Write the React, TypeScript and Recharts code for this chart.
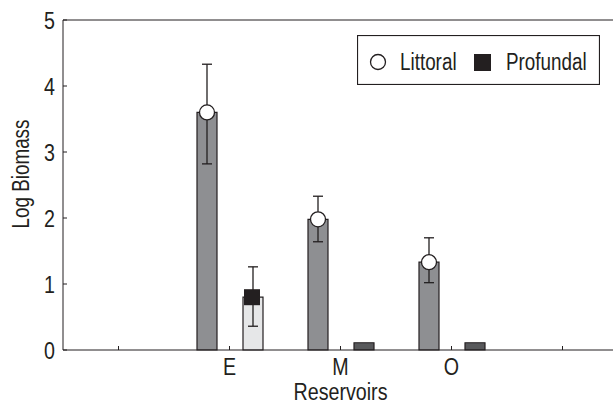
import React from 'react';
import { ComposedChart, Bar, XAxis, YAxis, ErrorBar, LabelList, Cell } from 'recharts';

// reservoir categories (blank slots at both ends, like the original axis)
const reservoirs = ['', 'E', 'M', 'O', ''];
const littoral = [null, 3.6, 1.98, 1.33, null];
const littoralLow = [null, 0.78, 0.34, 0.31, null];
const littoralHigh = [null, 0.73, 0.35, 0.37, null];
const profundal = [null, 0.8, 0.11, 0.11, null];
const profundalLow = [null, 0.44, null, null, null];
const profundalHigh = [null, 0.46, null, null, null];
const profundalMarked = [false, true, false, false, false];
const yTicks = [0, 1, 2, 3, 4, 5];

const ink = '#231f20';
const font = "'Liberation Sans', Arial, sans-serif";
const narrow = 0.82; // squeeze the text, the original uses a condensed face
const profundalFills = ['#e6e7e8', '#e6e7e8', '#58595b', '#58595b', '#58595b'];

const data = reservoirs.map((r, i) => ({
  key: `c${i}`,
  name: r,
  littoral: littoral[i],
  littoralErr: littoral[i] == null ? null : [littoralLow[i], littoralHigh[i]],
  profundal: profundal[i],
  profundalErr: profundalLow[i] == null ? null : [profundalLow[i], profundalHigh[i]],
  profundalMark: profundalMarked[i] ? profundal[i] : null,
}));

// condensed text helper
const NText = ({ x, y, size, anchor = 'start', rotate = 0, dy = 0, children }: any) => (
  <text
    transform={`translate(${x},${y}) rotate(${rotate}) scale(${narrow},1)`}
    textAnchor={anchor}
    dy={dy}
    fontSize={size}
    fill={ink}
    fontFamily={font}
  >
    {children}
  </text>
);

const YTick = (props: any) => {
  const { x, y, payload } = props;
  return <NText x={x} y={y} size={24} anchor="end" dy="0.355em">{payload.value}</NText>;
};

const XTick = (props: any) => {
  const { x, y, index } = props;
  const txt = reservoirs[index] ?? '';
  if (!txt) return null;
  return <NText x={x} y={y} size={24} anchor="middle" dy="0.71em">{txt}</NText>;
};

const CircleMark = (props: any) => {
  const { x, y, width, value } = props;
  if (value == null) return null;
  return <circle cx={x + width / 2} cy={y} r={7.5} fill="#fff" stroke={ink} strokeWidth={1.3} />;
};

const SquareMark = (props: any) => {
  const { x, y, width, value } = props;
  if (value == null) return null;
  return <rect x={x + width / 2 - 9} y={y - 8} width={16} height={16} fill={ink} />;
};

const Legendbox = () => (
  <svg width={243} height={50} style={{ position: 'absolute', left: 357, top: 35 }}>
    <rect x={0.5} y={0.5} width={242} height={49} fill="#fff" stroke={ink} strokeWidth={1.2} />
    <circle cx={21} cy={27} r={7.5} fill="#fff" stroke={ink} strokeWidth={1.3} />
    <NText x={43} y={34.5} size={23}>Littoral</NText>
    <rect x={117} y={19} width={17} height={17} fill={ink} />
    <NText x={149} y={34.5} size={23}>Profundal</NText>
  </svg>
);

export default function App() {
  return (
    <div style={{ position: 'fixed', left: 0, top: 0, width: 613, height: 403, overflow: 'hidden', background: '#fff' }}>
      <ComposedChart
        width={641}
        height={403}
        data={data}
        margin={{ top: 19, right: 22, bottom: 0, left: 0 }}
        barGap={26}
        style={{ fontFamily: font }}
      >
        <XAxis
          xAxisId="bottom"
          dataKey="key"
          height={53}
          stroke={ink}
          tickSize={-4}
          tickMargin={12}
          tick={<XTick />}
          label={{ content: () => <NText x={340.5} y={400} size={24} anchor="middle">Reservoirs</NText> }}
        />
        <XAxis xAxisId="top" dataKey="key" orientation="top" height={1} stroke={ink} tickSize={-4} tick={false} />
        <YAxis
          yAxisId="left"
          width={63}
          domain={[0, 5]}
          ticks={yTicks}
          stroke={ink}
          tickSize={-4}
          tickMargin={12}
          tick={<YTick />}
          label={{ content: () => <NText x={28.5} y={174} size={23} anchor="middle" rotate={-90}>Log Biomass</NText> }}
        />
        <YAxis yAxisId="right" orientation="right" width={1} domain={[0, 5]} ticks={yTicks} stroke={ink} tickSize={-3} tick={false} />
        <Bar xAxisId="bottom" yAxisId="left" dataKey="littoral" barSize={20} fill="#8e8f92" stroke={ink} strokeWidth={1.2} isAnimationActive={false}>
          <ErrorBar dataKey="littoralErr" width={5} stroke={ink} strokeWidth={1.3} direction="y" />
          <LabelList dataKey="littoral" content={CircleMark} />
        </Bar>
        <Bar xAxisId="bottom" yAxisId="left" dataKey="profundal" barSize={20} stroke={ink} strokeWidth={1.2} isAnimationActive={false}>
          {data.map((d, i) => (
            <Cell key={d.key} fill={profundalFills[i]} />
          ))}
          <ErrorBar dataKey="profundalErr" width={5} stroke={ink} strokeWidth={1.3} direction="y" />
          <LabelList dataKey="profundalMark" content={SquareMark} />
        </Bar>
      </ComposedChart>
      <Legendbox />
    </div>
  );
}
